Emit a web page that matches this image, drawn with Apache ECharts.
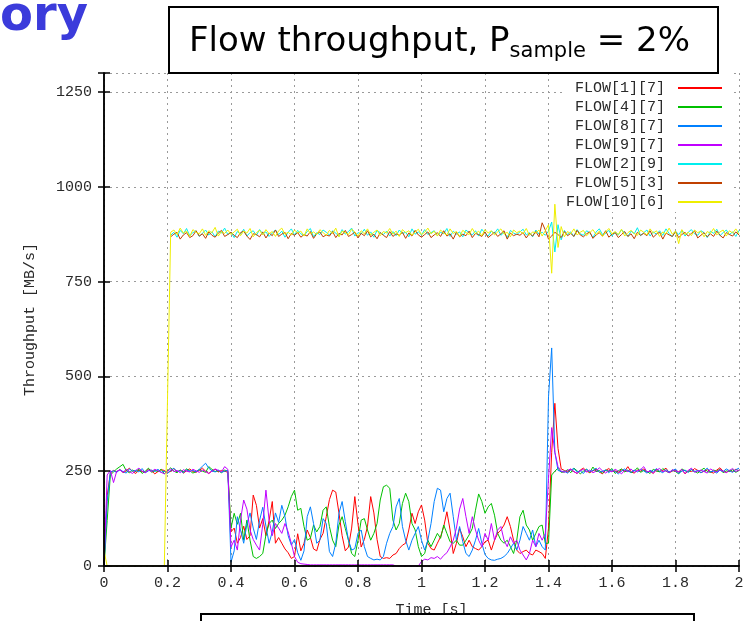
<!DOCTYPE html>
<html>
<head>
<meta charset="utf-8">
<script src="https://cdn.jsdelivr.net/npm/echarts@6/dist/echarts.min.js"></script>
<style>
  html, body { margin: 0; padding: 0; background: #fff; }
  #chart { width: 753px; height: 621px; }
</style>
</head>
<body>
<div id="chart"></div>
<script>
// Sampling interval of the throughput traces, in seconds (t = index * step)
const step = 0.01;

const flowNames = ['FLOW[1][7]', 'FLOW[4][7]', 'FLOW[8][7]', 'FLOW[9][7]', 'FLOW[2][9]', 'FLOW[5][3]', 'FLOW[10][6]'];
const flowColors = ['#ff0000', '#00c000', '#0080ff', '#c000ff', '#00eeee', '#c04000', '#eeee00'];

const xTicks = { min: 0, max: 2, interval: 0.2 };
const yTicks = { min: 0, max: 1300, interval: 250, lastLabel: 1250 };

// Throughput samples [MB/s], one value per step from t = 0 to t = 2 s
const flow1_7 = [
  0,185,245,
  252,248,255,246,251,258,249,244,253,250,
  247,256,251,243,249,254,252,246,250,257,
  248,253,245,251,256,249,247,252,258,250,
  244,251,255,248,252,250,247,
  90,100,60,75,105,70,80,187,160,100,
  125,80,120,170,60,75,60,45,35,20,
  25,85,40,60,95,75,45,40,70,86,
  130,175,200,195,140,80,40,50,100,183,
  110,50,70,105,183,140,70,25,20,22,
  20,29,33,46,55,60,95,139,112,143,
  161,121,60,46,42,60,77,104,143,95,
  33,60,99,77,51,68,51,46,42,51,
  64,68,42,68,86,95,108,130,104,68,
  42,33,38,42,33,29,42,38,33,20,
  100,300,429,310,256,
  252,247,255,249,244,253,258,250,246,251,
  255,248,243,252,257,249,251,246,254,250,
  262,248,245,253,250,256,247,251,244,255,
  249,252,258,246,250,253,248,255,243,251,
  249,257,252,246,250,254,248,245,253,259,
  250,247,252,249,255,251
];

const flow4_7 = [
  0,120,240,
  248,256,262,268,251,246,253,249,255,244,
  250,258,247,252,249,255,243,251,259,250,
  246,253,248,256,251,245,249,254,250,247,
  262,255,249,251,246,253,250,
  100,139,110,139,68,121,68,25,20,25,
  33,82,112,121,99,112,121,134,156,183,
  200,147,152,104,68,73,108,90,104,147,
  156,104,68,51,108,130,99,68,33,25,
  68,121,125,95,68,86,112,174,209,213,
  205,121,95,112,165,192,170,112,95,51,
  25,33,68,51,68,86,73,108,86,64,
  60,68,55,55,68,82,99,147,190,170,
  139,156,165,134,86,68,60,68,51,33,
  68,130,147,108,95,68,86,104,108,60,
  60,240,250,258,247,
  248,254,246,258,251,243,250,255,247,261,
  249,252,245,253,250,257,244,251,256,248,
  253,246,250,259,247,252,249,244,255,251,
  248,257,250,246,253,249,243,256,251,248,
  254,250,245,252,258,249,247,253,250,255,
  246,251,249,254,247,252
];

const flow8_7 = [
  0,170,248,
  251,247,254,249,245,256,250,252,248,257,
  246,251,253,249,255,247,250,244,252,258,
  249,251,246,254,250,252,248,255,263,271,
  258,251,248,253,247,250,252,
  10,40,130,95,60,110,140,100,70,120,
  155,105,60,90,140,115,160,130,80,55,
  70,35,15,40,130,156,112,60,68,125,
  112,38,25,60,139,170,117,68,42,46,
  86,95,51,25,20,16,18,16,25,60,
  86,104,156,178,104,68,42,68,86,104,
  68,42,68,112,170,205,200,143,178,192,
  130,68,104,64,33,25,42,68,99,60,
  30,20,16,15,18,20,25,33,46,60,
  42,68,104,86,68,95,51,68,51,42,
  446,575,300,252,249,
  250,245,253,257,248,251,244,255,249,252,
  258,247,250,253,246,254,249,243,251,256,
  250,247,253,248,255,251,245,252,249,257,
  250,246,254,248,251,256,244,250,253,247,
  255,249,252,246,251,258,248,250,245,253,
  249,256,251,247,254,258
];

const flow9_7 = [
  0,240,252,
  220,250,253,247,255,249,244,252,258,250,
  246,253,249,255,251,247,243,250,256,249,
  252,246,254,250,248,255,251,247,253,249,
  244,250,256,252,248,262,255,
  50,68,42,121,174,150,95,70,55,42,
  110,200,120,80,112,100,86,112,90,60,
  25,10,6,5,4,3,3,3,3,3,
  3,3,3,3,3,3,3,3,3,3,
  3,3,3,3,3,3,3,3,3,3,
  3,3,0,0,0,0,0,0,0,0,
  12,18,16,22,20,25,18,28,35,50,
  68,100,150,178,130,86,130,95,68,51,
  86,68,112,68,95,104,68,51,77,60,
  68,42,29,16,33,68,51,86,68,86,
  230,365,300,262,250,
  247,252,256,249,244,251,255,248,253,246,
  250,259,251,245,252,248,255,250,243,253,
  249,256,247,251,254,262,248,250,245,253,
  257,249,251,246,254,250,248,255,244,252,
  258,247,250,253,249,245,256,251,248,254,
  250,246,252,257,249,253
];

const flow2_9 = [
  null,null,null,null,null,null,null,null,null,null,
  null,null,null,null,null,null,null,null,null,null,null,
  872,880,867,885,876,890,871,879,884,869,
  877,886,873,881,868,883,878,891,874,880,
  866,882,875,888,870,879,884,872,887,876,
  881,869,878,886,874,883,867,880,889,873,
  885,876,871,882,890,868,879,874,886,880,
  873,884,878,869,887,875,882,891,870,879,
  876,888,872,881,867,885,879,874,883,870,
  882,871,886,877,880,868,889,875,881,873,
  887,874,879,884,871,880,876,890,869,883,
  875,881,868,886,879,873,884,870,888,877,
  870,883,877,889,872,880,866,885,878,874,
  881,888,873,879,868,886,875,880,872,883,
  907,828,900,860,885,874,881,869,887,876,
  872,884,879,866,881,889,874,877,885,870,
  880,873,887,878,869,883,876,892,871,879,
  886,870,881,875,884,872,889,877,868,883,
  874,885,870,880,887,876,872,884,879,866,
  883,877,888,871,879,886,874,881,869,885
];

const flow5_3 = [
  null,null,null,null,null,null,null,null,null,null,
  null,null,null,null,null,null,null,null,null,null,null,
  868,875,880,862,873,879,866,871,884,870,
  876,864,881,872,867,878,885,869,874,880,
  872,866,879,883,870,861,876,874,868,881,
  865,878,871,886,869,875,880,863,877,872,
  879,867,874,870,882,864,876,881,868,873,
  870,882,866,877,873,885,869,874,880,865,
  877,871,884,868,875,863,879,872,866,882,
  869,876,872,880,864,878,870,885,873,867,
  874,881,866,873,879,869,884,870,876,862,
  880,868,875,871,883,866,877,874,869,881,
  866,873,880,869,876,884,862,878,871,875,
  872,879,865,877,870,882,868,905,886,862,
  870,880,874,866,882,871,877,869,885,873,
  868,876,881,864,873,879,870,884,867,875,
  879,866,874,882,869,876,863,880,872,877,
  871,884,867,875,880,862,878,873,869,882,
  866,874,880,870,877,884,865,872,879,868,
  876,869,883,872,865,879,874,870,881,873
];

const flow10_6 = [
  40,0,0,0,0,0,0,0,0,0,
  0,0,0,0,0,0,0,0,0,0,440,
  880,886,874,891,878,883,869,887,880,876,
  889,872,884,879,893,870,882,877,886,874,
  881,888,871,883,878,890,868,879,885,873,
  887,876,882,869,884,891,875,880,873,886,
  878,883,870,889,876,881,874,887,879,872,
  885,877,891,868,883,879,874,888,881,870,
  884,876,889,873,880,886,871,882,878,890,
  875,883,869,887,879,884,872,881,888,874,
  880,891,876,883,870,886,878,873,889,877,
  882,869,885,879,874,890,876,883,871,887,
  878,884,873,881,889,875,880,868,886,879,
  883,876,890,872,881,878,886,870,884,900,
  772,954,840,895,868,882,876,889,873,880,
  885,871,879,887,874,883,869,881,890,876,
  882,874,888,870,879,885,877,872,886,880,
  873,889,878,884,869,881,876,891,875,883,
  850,887,874,880,871,886,879,883,868,882,
  877,890,873,881,886,870,884,878,889,876
];

const flowData = [flow1_7, flow4_7, flow8_7, flow9_7, flow2_9, flow5_3, flow10_6];

function toPairs(values) {
  return values.map((v, i) => [+(i * step).toFixed(2), v]);
}

const monoFont = 'Liberation Mono';
const labelColor = '#2a2a2a';
const borderStyle = { color: '#000', width: 1.5 };
const tickStyle = { inside: true, length: 6, lineStyle: { color: '#000', width: 1.5 } };
const gridDots = { show: true, lineStyle: { color: '#9a9a9a', width: 1, type: [2, 4] } };

const chart = echarts.init(document.getElementById('chart'), null, { renderer: 'canvas' });

chart.setOption({
  animation: false,
  backgroundColor: '#fff',
  grid: { left: 104, right: 14, top: 73, bottom: 55, containLabel: false, outerBoundsMode: 'none' },
  xAxis: [
    {
      type: 'value', position: 'bottom', min: xTicks.min, max: xTicks.max, interval: xTicks.interval, z: 10,
      axisLine: { show: true, lineStyle: borderStyle },
      axisTick: tickStyle,
      splitLine: { show: false },
      axisLabel: {
        margin: 10, fontFamily: monoFont, fontSize: 15, color: labelColor,
        formatter: v => String(Math.round(v * 10) / 10)
      },
      name: 'Time [s]', nameLocation: 'middle', nameGap: 37,
      nameTextStyle: { fontFamily: monoFont, fontSize: 15, color: labelColor, padding: [0, 0, 0, 20] }
    },
    {
      type: 'value', position: 'top', min: xTicks.min, max: xTicks.max, interval: xTicks.interval, z: 10,
      axisLine: { show: true, lineStyle: borderStyle },
      axisTick: tickStyle,
      axisLabel: { show: false },
      splitLine: { show: false }
    },
    {
      type: 'value', position: 'bottom', min: xTicks.min, max: xTicks.max, interval: xTicks.interval,
      axisLine: { show: false }, axisTick: { show: false }, axisLabel: { show: false },
      splitLine: gridDots
    }
  ],
  yAxis: [
    {
      type: 'value', position: 'left', min: yTicks.min, max: yTicks.max, interval: yTicks.interval, z: 10,
      axisLine: { show: true, lineStyle: borderStyle },
      axisTick: tickStyle,
      splitLine: { show: false },
      axisLabel: {
        margin: 12, fontFamily: monoFont, fontSize: 15, color: labelColor,
        formatter: v => (v > yTicks.lastLabel ? '' : String(v))
      },
      name: 'Throughput [MB/s]', nameLocation: 'middle', nameRotate: 90, nameGap: 66,
      nameTextStyle: { fontFamily: monoFont, fontSize: 15, color: labelColor }
    },
    {
      type: 'value', position: 'right', min: yTicks.min, max: yTicks.max, interval: yTicks.interval, z: 10,
      axisLine: { show: true, lineStyle: borderStyle },
      axisTick: tickStyle,
      axisLabel: { show: false },
      splitLine: { show: false }
    },
    {
      type: 'value', position: 'left', min: yTicks.min, max: yTicks.max, interval: yTicks.interval,
      axisLine: { show: false }, axisTick: { show: false }, axisLabel: { show: false },
      splitLine: gridDots
    }
  ],
  legend: {
    orient: 'vertical', align: 'right', right: 22, top: 73,
    padding: [6, 9, 1, 4], itemGap: 1, itemWidth: 44, itemHeight: 2,
    icon: 'rect',
    backgroundColor: '#fff', selectedMode: false,
    textStyle: { fontFamily: monoFont, fontSize: 15, color: labelColor, lineHeight: 18, padding: [0, 8, 0, 0] },
    data: flowNames
  },
  series: flowNames.map((name, k) => ({
    name: name,
    type: 'line',
    xAxisIndex: 0,
    yAxisIndex: 0,
    data: toPairs(flowData[k]),
    showSymbol: false,
    symbol: 'none',
    connectNulls: false,
    color: flowColors[k],
    lineStyle: { width: 1, color: flowColors[k] },
    emphasis: { disabled: true }
  })),
  graphic: [
    {
      type: 'text', x: 0, y: 18, z: 20,
      style: { text: 'ory', font: 'bold 48px "DejaVu Sans"', fill: '#3b3bdb', align: 'left', verticalAlign: 'middle' }
    },
    {
      type: 'rect', x: 169, y: 7, z: 20,
      shape: { width: 549, height: 66 },
      style: { fill: '#fff', stroke: '#000', lineWidth: 2 }
    },
    {
      type: 'text', x: 189, y: 22, z: 21,
      style: {
        text: '{a|Flow throughput, P}{b|sample}{a| = 2%}',
        align: 'left', verticalAlign: 'top',
        rich: {
          a: { fontFamily: 'DejaVu Sans', fontSize: 34, lineHeight: 40, fill: '#000', color: '#000' },
          b: { fontFamily: 'DejaVu Sans', fontSize: 21, lineHeight: 12, verticalAlign: 'bottom', fill: '#000', color: '#000' }
        }
      }
    },
    {
      type: 'rect', x: 201, y: 614, z: 20,
      shape: { width: 493, height: 20 },
      style: { fill: '#fff', stroke: '#000', lineWidth: 2 }
    }
  ]
});
</script>
</body>
</html>
